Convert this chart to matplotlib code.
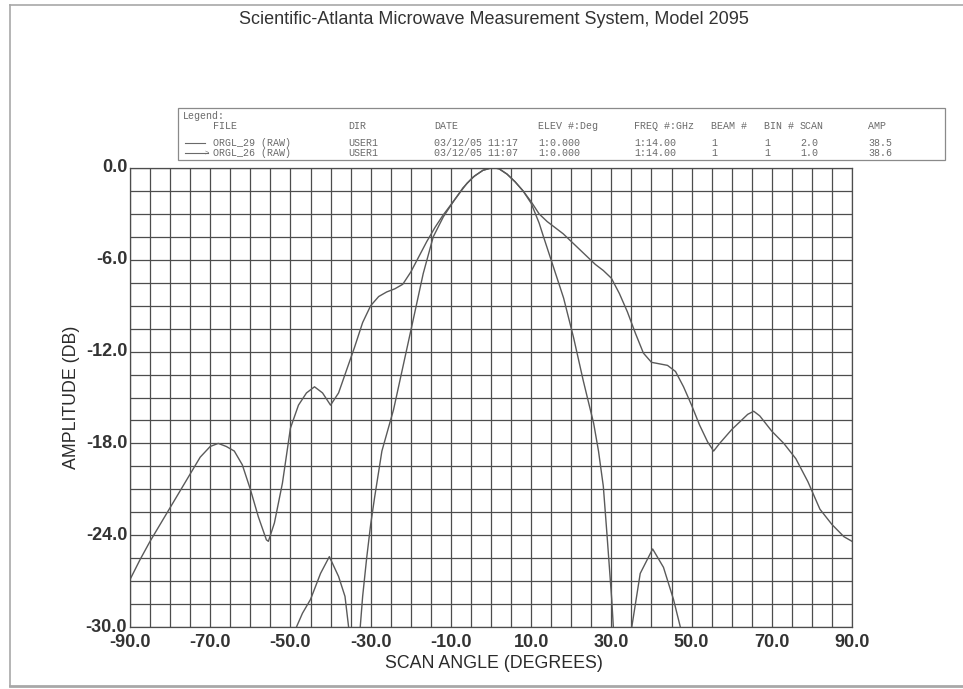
import matplotlib
matplotlib.use("Agg")
import matplotlib.pyplot as plt
from matplotlib.patches import Rectangle
import numpy as np

# ---------------- data ----------------
title = "Scientific-Atlanta Microwave Measurement System, Model 2095"
x_label = "SCAN ANGLE (DEGREES)"
y_label = "AMPLITUDE (DB)"

x_ticks = [-90, -70, -50, -30, -10, 10, 30, 50, 70, 90]
y_ticks = [0, -6, -12, -18, -24, -30]

# wide pattern (ORGL_29)
wide_angle = [-90, -87.5, -85, -82.5, -80, -77.5, -75, -72.5, -70, -68, -66, -64, -62,
              -60, -58, -56, -55.5, -54, -52, -50, -48, -46, -44, -42, -40, -38, -36,
              -34, -32, -30, -28, -26, -24, -22, -20, -18, -16, -14, -12, -10, -8, -6,
              -4, -2, 0, 1, 2, 4, 6, 8, 10, 12, 14, 16, 18, 20, 22, 24, 26, 28, 30, 32,
              34, 36, 38, 40, 42, 44, 46, 48, 50, 52, 54, 55.5, 57, 60, 62, 64, 65.5,
              67, 70, 73, 76, 79, 82, 85, 88, 90]
wide_db = [-26.9, -25.6, -24.4, -23.3, -22.2, -21.1, -20.0, -18.9, -18.2, -18.0, -18.2,
           -18.5, -19.4, -21.0, -22.8, -24.3, -24.4, -23.2, -20.6, -17.0, -15.5, -14.7,
           -14.3, -14.7, -15.5, -14.7, -13.2, -11.7, -10.1, -9.0, -8.4, -8.1, -7.9, -7.6,
           -6.8, -5.8, -4.8, -3.9, -3.1, -2.4, -1.7, -1.0, -0.5, -0.15, 0.0, 0.0, -0.05,
           -0.4, -0.9, -1.5, -2.2, -3.0, -3.5, -3.9, -4.3, -4.8, -5.3, -5.8, -6.3, -6.7,
           -7.2, -8.2, -9.4, -10.8, -12.1, -12.7, -12.8, -12.9, -13.3, -14.3, -15.5,
           -16.8, -17.9, -18.5, -18.0, -17.1, -16.6, -16.1, -15.9, -16.2, -17.2, -18.0,
           -19.0, -20.5, -22.3, -23.3, -24.1, -24.4]

# narrow pattern (ORGL_26) - nulls fall below the -30 dB floor
narrow_angle = [-50, -48.5, -47, -45, -42.5, -40.3, -38, -36.4, -35.5, -34, -32.6, -32,
                -31, -30, -29, -27.2, -24.3, -21.8, -19.3, -16.9, -14.4, -11.9, -9.4, -7,
                -4.5, -2, 0, 1, 2, 4, 6, 8, 10, 12, 13.1, 15.6, 18.1, 20.6, 23, 25.6, 26.8,
                28, 28.9, 30.1, 30.5, 32, 35.1, 37.2, 40.3, 43, 45.5, 47.2, 48.5]
narrow_db = [-31.5, -30.0, -29.1, -28.2, -26.5, -25.4, -26.7, -28.0, -30.0, -34.0, -30.0,
             -28.0, -25.5, -23.3, -21.5, -18.5, -15.8, -12.8, -9.8, -6.9, -4.5, -3.2,
             -2.2, -1.3, -0.6, -0.15, 0.0, 0.0, -0.05, -0.4, -0.9, -1.5, -2.3, -3.6, -4.5,
             -6.5, -8.5, -11.1, -13.9, -16.7, -18.5, -20.8, -23.9, -28.2, -30.0, -35.0,
             -30.0, -26.5, -24.9, -26.1, -28.2, -30.0, -31.5]

legend_header = ["FILE", "DIR", "DATE", "ELEV #:Deg", "FREQ #:GHz", "BEAM #", "BIN #", "SCAN", "AMP"]
legend_rows = [
    ["ORGL_29 (RAW)", "USER1", "03/12/05 11:17", "1:0.000", "1:14.00", "1", "1", "2.0", "38.5"],
    ["ORGL_26 (RAW)", "USER1", "03/12/05 11:07", "1:0.000", "1:14.00", "1", "1", "1.0", "38.6"],
]

# ---------------- figure ----------------
W, H = 963, 689
fig = plt.figure(figsize=(W / 100, H / 100), dpi=100)
fig.patch.set_facecolor("white")

def fx(px):
    return px / W

def fy(py):
    return 1 - py / H

# scanned page frame (left, top, bottom edges)
frame_c = "#a8a8a8"
for xs, ys, lw in [([10, 10], [5, 686], 1.2), ([10, 963], [5, 5], 1.2), ([10, 963], [686, 686], 2.0)]:
    fig.lines.append(plt.Line2D([fx(v) for v in xs], [fy(v) for v in ys],
                                transform=fig.transFigure, color=frame_c, lw=lw))

ax_l, ax_r, ax_t, ax_b = 130, 852, 168, 627
ax = fig.add_axes([fx(ax_l), fy(ax_b), fx(ax_r) - fx(ax_l), fy(ax_t) - fy(ax_b)])
ax.set_xlim(-90, 90)
ax.set_ylim(-30, 0)

grid_c = "#4d4d4d"
ax.set_xticks(np.arange(-90, 91, 5), minor=True)
ax.set_yticks(np.arange(-30, 0.1, 1.5), minor=True)
ax.set_xticks(x_ticks)
ax.set_yticks(y_ticks)
ax.grid(which="both", color=grid_c, lw=0.9)
ax.set_xticklabels([f"{v:.1f}" for v in x_ticks])
ax.set_yticklabels([f"{v:.1f}" for v in y_ticks])
ax.tick_params(which="both", length=0)
ax.tick_params(axis="x", pad=5)
ax.tick_params(axis="y", pad=2)
for lab in ax.get_xticklabels() + ax.get_yticklabels():
    lab.set_fontfamily("Liberation Sans")
    lab.set_fontsize(13)
    lab.set_fontweight("bold")
    lab.set_color("#333333")
for lab in ax.get_yticklabels():
    lab.set_verticalalignment("center")
for s in ax.spines.values():
    s.set_color(grid_c)
    s.set_linewidth(0.9)

line_c = "#5a5a5a"
ax.plot(wide_angle, wide_db, color=line_c, lw=1.0)
ax.plot(narrow_angle, narrow_db, color=line_c, lw=1.0)

fig.text(fx(494), fy(663), x_label, family="Liberation Sans", fontsize=12.8,
         color="#2b2b2b", ha="center", va="center")
fig.text(fx(72), fy(397), y_label, family="Liberation Sans", fontsize=12.8,
         color="#2b2b2b", ha="center", va="center", rotation=90)

fig.text(fx(494), fy(20), title, family="Liberation Sans", fontsize=13, color="#333333",
         ha="center", va="center")

# legend box
fig.patches.append(Rectangle((fx(178), fy(160)), fx(945) - fx(178), fy(108) - fy(160),
                             transform=fig.transFigure, fill=False, edgecolor="#8a8a8a",
                             lw=0.9))
mono = dict(family="Liberation Mono", fontsize=7.2, color="#6a6a6a", va="center", ha="left")
fig.text(fx(183), fy(116), "Legend:", **mono)
col_x = [213, 348, 434, 538, 634, 711, 764, 800, 868]
for cx, txt in zip(col_x, legend_header):
    fig.text(fx(cx), fy(126), txt, **mono)
row_y = [143, 153]
for ry, row in zip(row_y, legend_rows):
    for cx, txt in zip(col_x, row):
        fig.text(fx(cx), fy(ry), txt, **mono)
fig.lines.append(plt.Line2D([fx(185), fx(205)], [fy(143), fy(143)], transform=fig.transFigure,
                            color="#6a6a6a", lw=0.8))
fig.lines.append(plt.Line2D([fx(185), fx(208)], [fy(153), fy(153)], transform=fig.transFigure,
                            color="#6a6a6a", lw=0.8))
fig.text(fx(207), fy(153), ">", family="Liberation Mono", fontsize=5, color="#6a6a6a",
         va="center", ha="center")

fig.savefig("out.png", dpi=100, facecolor="white")
